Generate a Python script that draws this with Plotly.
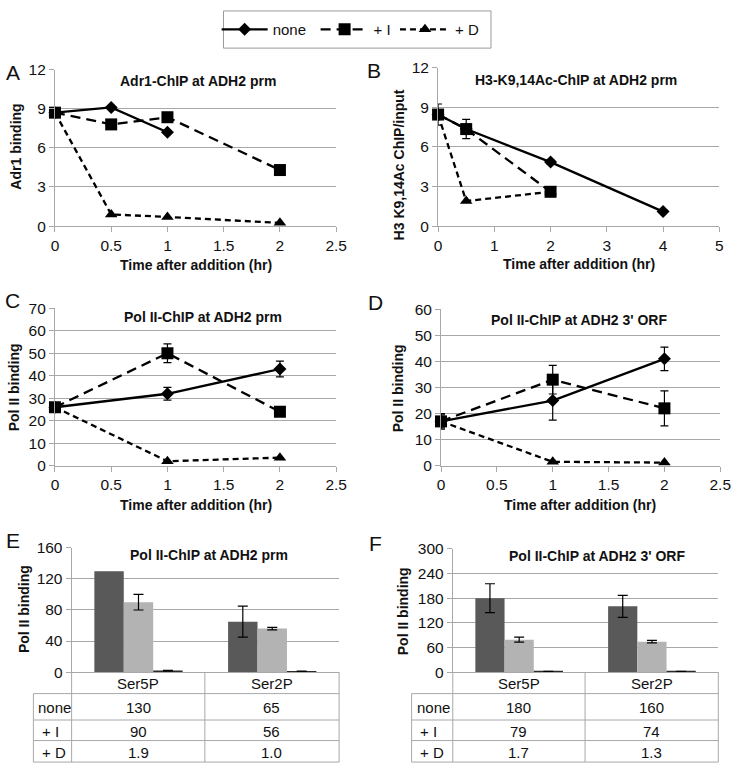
import plotly.graph_objects as go

W, H = 745, 773
def px(x): return x / W
def py(y): return 1 - y / H

FONT = "Liberation Sans, Arial, sans-serif"
TXT = "#111111"
GRID = "#a8a8a8"

series_names = ["none", "+ I", "+ D"]

# ---------------- Panel A ----------------
a_t_none = [0, 0.5, 1]
a_none = [8.7, 9.1, 7.2]
a_t_i = [0, 0.5, 1, 2]
a_i = [8.7, 7.8, 8.35, 4.3]
a_t_d = [0, 0.5, 1, 2]
a_d = [8.7, 0.9, 0.7, 0.25]

# ---------------- Panel B ----------------
b_t_none = [0, 0.5, 2, 4]
b_none = [8.45, 7.35, 4.85, 1.1]
b_none_err = [0.8, 0.73, 0.15, 0.1]
b_t_i = [0, 0.5, 2]
b_i = [8.45, 7.35, 2.6]
b_t_d = [0, 0.5, 2]
b_d = [8.45, 1.9, 2.6]

# ---------------- Panel C ----------------
c_t = [0, 1, 2]
c_none = [26, 32, 43]
c_none_err = [1.2, 2.8, 3.5]
c_i = [26, 50, 24]
c_i_err = [1.0, 4.2, 1.0]
c_d = [26, 2, 3.6]

# ---------------- Panel D ----------------
d_t = [0, 1, 2]
d_none = [17, 25, 41]
d_none_err = [3.0, 7.5, 4.5]
d_i = [17, 33, 22]
d_i_err = [2.5, 5.5, 6.7]
d_d = [17, 1.5, 1.2]

# ---------------- Panels E / F ----------------
marks = ["Ser5P", "Ser2P"]
e_none = [130, 65]
e_none_err = [None, 20]
e_i = [90, 56]
e_i_err = [10, 1.5]
e_d = [1.9, 1.0]
e_d_err = [0.3, 0.3]

f_none = [180, 160]
f_none_err = [35, 27]
f_i = [79, 74]
f_i_err = [6, 3]
f_d = [1.7, 1.3]
f_d_err = [0.3, 0.3]

panel_titles = ["Adr1-ChIP at ADH2 prm", "H3-K9,14Ac-ChIP at ADH2 prm",
                "Pol II-ChIP at ADH2 prm", "Pol II-ChIP at ADH2 3' ORF",
                "Pol II-ChIP at ADH2 prm", "Pol II-ChIP at ADH2 3' ORF"]
y_titles = ["Adr1 binding", "H3 K9,14Ac ChIP/input", "Pol II binding",
            "Pol II binding", "Pol II binding", "Pol II binding"]
x_title = "Time after addition (hr)"
letters = ["A", "B", "C", "D", "E", "F"]

def fmt(v):
    return f"{v:.1f}" if v < 10 else f"{v:.0f}"

line_styles = {
    "none": dict(dash="solid", symbol="diamond", size=10),
    "+ I": dict(dash="10px,6px", symbol="square", size=12),
    "+ D": dict(dash="6px,4px", symbol="triangle-up", size=11),
}
legend_of = {"none": "legend", "+ I": "legend2", "+ D": "legend3"}

fig = go.Figure()

def add_line(name, x, y, xa, ya, err=None, legend=False):
    st = line_styles[name]
    tr = go.Scatter(
        x=x, y=y, name=name, mode="lines+markers", xaxis=xa, yaxis=ya,
        line=dict(color="black", width=2.3, dash=st["dash"]),
        marker=dict(color="black", symbol=st["symbol"], size=st["size"]),
        showlegend=legend, legend=legend_of[name], cliponaxis=False,
    )
    if err is not None:
        tr.error_y = dict(type="data", array=err, color="black", thickness=1.2, width=4)
    fig.add_trace(tr)

# A
add_line("none", a_t_none, a_none, "x", "y", legend=True)
add_line("+ I", a_t_i, a_i, "x", "y", legend=True)
add_line("+ D", a_t_d, a_d, "x", "y", legend=True)
# B
add_line("none", b_t_none, b_none, "x2", "y2", err=b_none_err)
add_line("+ D", b_t_d, b_d, "x2", "y2")
add_line("+ I", b_t_i, b_i, "x2", "y2")
# C
add_line("none", c_t, c_none, "x3", "y3", err=c_none_err)
add_line("+ I", c_t, c_i, "x3", "y3", err=c_i_err)
add_line("+ D", c_t, c_d, "x3", "y3")
# D
add_line("none", d_t, d_none, "x4", "y4", err=d_none_err)
add_line("+ I", d_t, d_i, "x4", "y4", err=d_i_err)
add_line("+ D", d_t, d_d, "x4", "y4")

bar_colors = {"none": "#595959", "+ I": "#b3b3b3", "+ D": "#2a2a2a"}
def add_bar(name, vals, errs, xa, ya):
    # missing error values are passed as NaN so plotly skips that error bar
    errs = ["NaN" if e is None else e for e in errs]
    fig.add_trace(go.Bar(
        x=marks, y=vals, name=name, xaxis=xa, yaxis=ya, showlegend=False,
        marker=dict(color=bar_colors[name], line=dict(width=0)),
        error_y=dict(type="data", array=errs, color="black", thickness=1.2, width=5),
    ))

add_bar("none", e_none, e_none_err, "x5", "y5")
add_bar("+ I", e_i, e_i_err, "x5", "y5")
add_bar("+ D", e_d, e_d_err, "x5", "y5")
add_bar("none", f_none, f_none_err, "x6", "y6")
add_bar("+ I", f_i, f_i_err, "x6", "y6")
add_bar("+ D", f_d, f_d_err, "x6", "y6")

# panel geometry in px: (left, right, top, bottom)
geo = [(52, 339, 62, 222), (443, 730, 60, 222), (52, 339, 306, 467),
       (446, 731, 307, 467), (69, 342, 551, 678), (458, 729, 552, 678)]
xranges = [[0, 2.5], [0, 5], [0, 2.5], [0, 2.5], [-0.5, 1.5], [-0.5, 1.5]]
xdticks = [0.5, 1, 0.5, 0.5, None, None]
yranges = [[0, 12], [0, 12], [0, 70], [0, 60], [0, 160], [0, 300]]
ydticks = [3, 3, 10, 10, 40, 60]

tickfont = dict(family=FONT, size=15.5, color=TXT)
for i, (l, r, t, b) in enumerate(geo):
    n = "" if i == 0 else str(i + 1)
    xa = dict(domain=[px(l), px(r)], anchor="y" + n, range=xranges[i],
              showline=True, linecolor=GRID, linewidth=1, showgrid=False,
              zeroline=False, tickfont=tickfont)
    if i < 4:
        xa.update(ticks="outside", ticklen=5, tickcolor=GRID, dtick=xdticks[i], tick0=0)
    else:
        xa.update(showticklabels=False, ticks="")
    ya = dict(domain=[py(b), py(t)], anchor="x" + n, range=yranges[i], dtick=ydticks[i],
              tick0=0, showline=True, linecolor=GRID, linewidth=1, showgrid=True,
              gridcolor=GRID, gridwidth=1, zeroline=False, ticks="outside",
              ticklen=5, tickcolor=GRID, tickfont=tickfont)
    fig.layout["xaxis" + n] = xa
    fig.layout["yaxis" + n] = ya

ann = []
def text(x, y, s, size=15, bold=False, angle=0, xanchor="center"):
    ann.append(dict(x=px(x), y=py(y), xref="paper", yref="paper", text=f"<b>{s}</b>" if bold else s,
                    showarrow=False, xanchor=xanchor, yanchor="middle", textangle=angle,
                    font=dict(family=FONT, size=size, color=TXT)))

title_pos = [(198, 74), (584, 73), (203, 315), (587, 318), (209, 558), (605, 559)]
ytitle_pos = [(12, 141), (403, 159), (11, 387), (403, 388), (21, 614), (408, 616)]
xtitle_pos = [(196, 262), (587, 261), (196, 507), (588, 507)]
letter_pos = [(9, 65), (378, 63), (9, 298), (379, 300), (9, 543), (379, 547)]
for i in range(6):
    text(*title_pos[i], panel_titles[i], size=14, bold=True)
    text(*ytitle_pos[i], y_titles[i], size=14, bold=True, angle=-90)
    text(*letter_pos[i], letters[i], size=21)
for i in range(4):
    text(*xtitle_pos[i], x_title, size=14, bold=True)

# tables below bar panels
shapes = []
def hline(x0, x1, y):
    shapes.append(dict(type="line", xref="paper", yref="paper", x0=px(x0), x1=px(x1),
                       y0=py(y), y1=py(y), line=dict(color=GRID, width=1)))
def vline(x, y0, y1):
    shapes.append(dict(type="line", xref="paper", yref="paper", x0=px(x), x1=px(x),
                       y0=py(y0), y1=py(y1), line=dict(color=GRID, width=1)))

row_y = [678, 700, 727, 748, 770]
tables = [((30, 69, 205, 342), [e_none, e_i, e_d]),
          ((416, 458, 593, 729), [f_none, f_i, f_d])]
for (x0, x1, x2, x3), rows in tables:
    for yy in row_y[1:]:
        hline(x0, x3, yy)
    vline(x0, row_y[1], row_y[-1])
    for xx in (x1, x2, x3):
        vline(xx, row_y[0], row_y[-1])
    cx = [(x1 + x2) / 2, (x2 + x3) / 2]
    for j, m in enumerate(marks):
        text(cx[j], (row_y[0] + row_y[1]) / 2 + 1, m, size=15)
    for k, (nm, vals) in enumerate(zip(series_names, rows)):
        yc = (row_y[k + 1] + row_y[k + 2]) / 2 + 1
        text(x0 + 3 if nm == "none" else x0 + 7, yc, nm, size=15, xanchor="left")
        for j, v in enumerate(vals):
            text(cx[j], yc, fmt(v), size=15)

# legend frame
shapes.append(dict(type="rect", xref="paper", yref="paper", x0=px(224), x1=px(497),
                   y0=py(40), y1=py(2), line=dict(color="#9a9a9a", width=1)))

def leg(xpix, iw):
    return dict(orientation="h", x=px(xpix), xanchor="left", y=py(21), yanchor="middle",
                font=dict(family=FONT, size=15, color=TXT), bgcolor="rgba(0,0,0,0)",
                borderwidth=0, itemwidth=iw)

fig.update_layout(
    width=W, height=H, margin=dict(l=0, r=0, t=0, b=0),
    paper_bgcolor="white", plot_bgcolor="white",
    bargap=0.34, bargroupgap=0, barmode="group",
    annotations=ann, shapes=shapes,
    showlegend=True,
    legend=leg(217, 46), legend2=leg(318, 48), legend3=leg(399, 50),
    font=dict(family=FONT, color=TXT),
)

fig.write_html("out.html", config={"displayModeBar": False},
               post_script="document.body.style.margin='0';document.body.style.overflow='hidden';")
